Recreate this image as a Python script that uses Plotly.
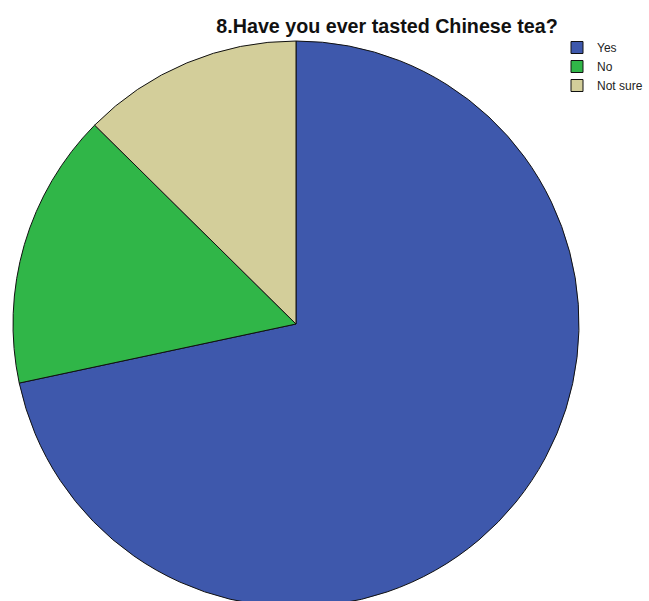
import plotly.graph_objects as go

# Survey responses
labels = ["Yes", "No", "Not sure"]
counts = [91, 20, 16]
colors = ["#3e58ac", "#30b648", "#d3ce9a"]

W, H = 649, 610

fig = go.Figure(
    go.Pie(
        labels=labels,
        values=counts,
        sort=False,
        direction="clockwise",
        rotation=0,
        textinfo="none",
        hoverinfo="label+value+percent",
        marker=dict(colors=colors, line=dict(color="#111111", width=1)),
        domain=dict(x=[0, 1], y=[0, 1]),
    )
)

fig.update_layout(
    width=W,
    height=H,
    margin=dict(l=13, r=70, t=41, b=3, autoexpand=False),
    paper_bgcolor="white",
    plot_bgcolor="white",
    font=dict(family="Liberation Sans, Arial, sans-serif", color="#111111"),
    title=dict(
        text="<b>8.Have you ever tasted Chinese tea?</b>",
        font=dict(size=19.7, color="#111111"),
        x=387 / W,
        xanchor="center",
        xref="container",
        yref="container",
        y=1 - 26 / H,
        yanchor="middle",
    ),
    legend=dict(
        x=557 / W,
        xanchor="left",
        xref="container",
        y=1 - 33 / H,
        yanchor="top",
        yref="container",
        font=dict(size=12, color="#222222"),
        bgcolor="rgba(0,0,0,0)",
        borderwidth=0,
        itemwidth=30,
        tracegroupgap=0,
    ),
    showlegend=True,
)

fig.write_html(
    "out.html",
    post_script="document.body.style.overflow='hidden';document.documentElement.style.overflow='hidden';document.body.style.margin='0';",
)
